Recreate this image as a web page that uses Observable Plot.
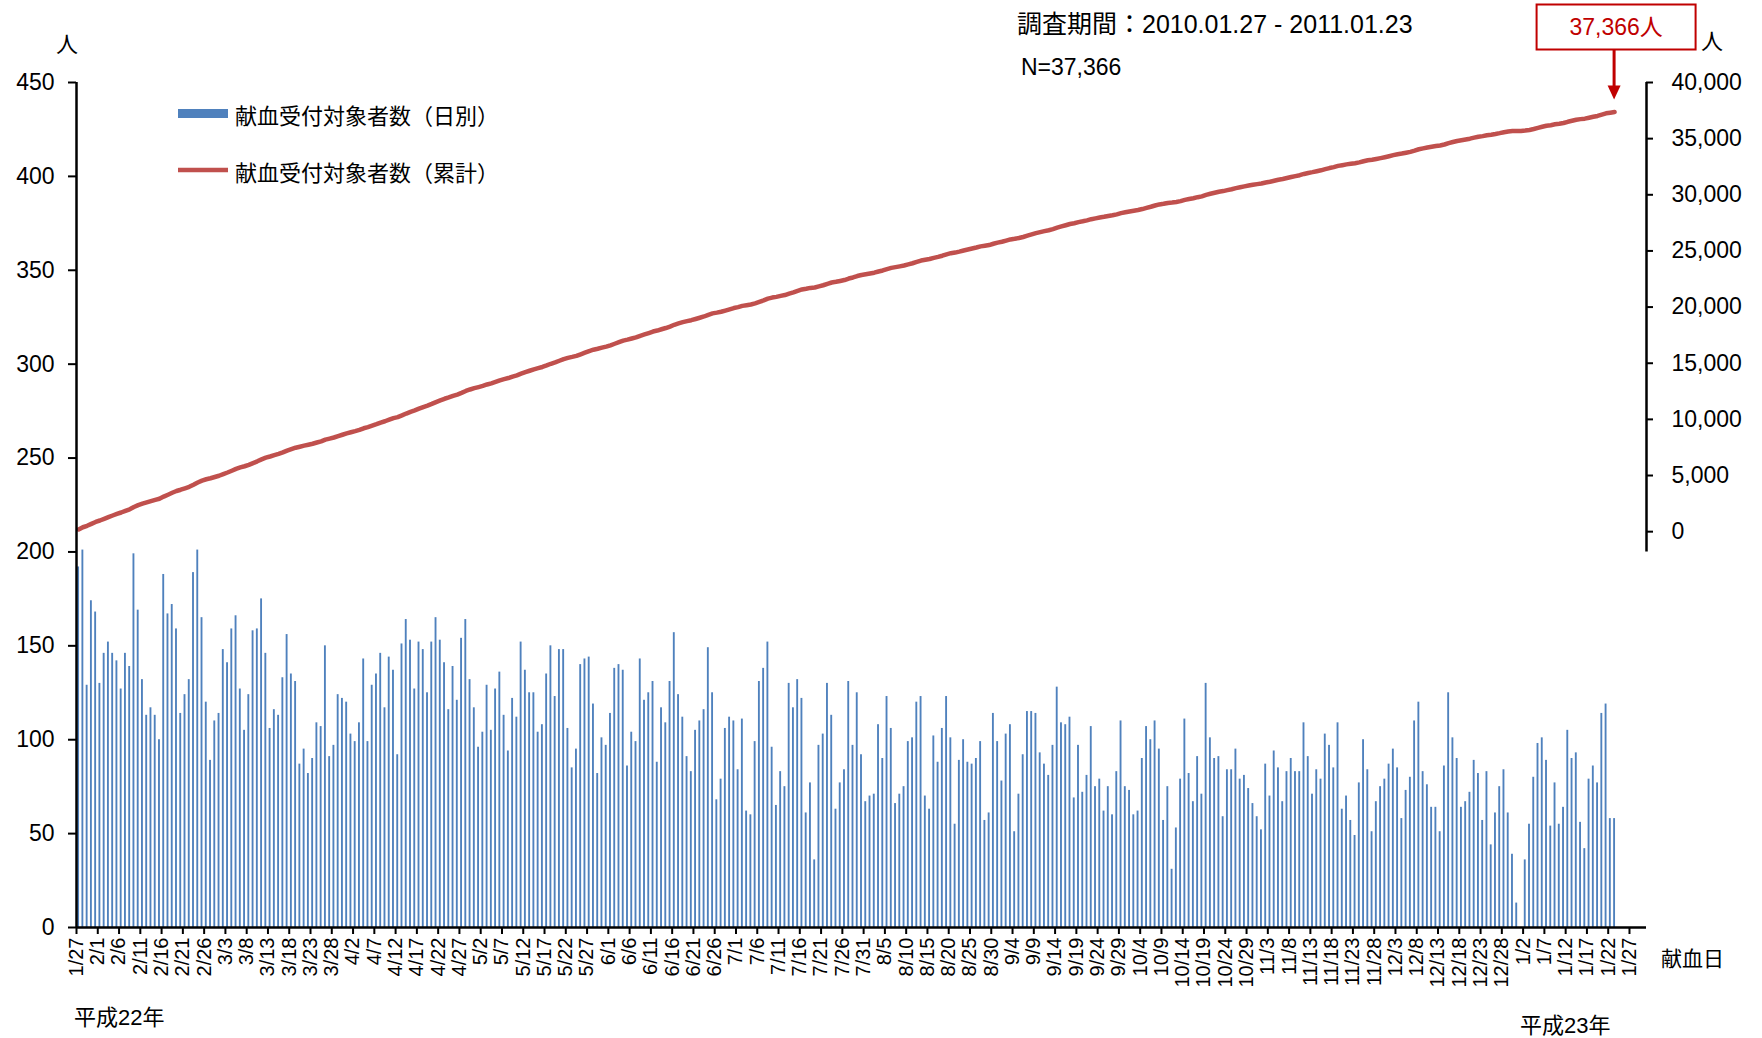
<!DOCTYPE html>
<html><head><meta charset="utf-8">
<script src="https://cdn.jsdelivr.net/npm/d3@7"></script>
<script src="https://cdn.jsdelivr.net/npm/@observablehq/plot@0.6"></script>
<style>
body{margin:0;background:#fff;}
#wrap{position:relative;width:1762px;height:1038px;font-family:"Liberation Sans","Noto Sans CJK JP",sans-serif;color:#000;}
.lbl{position:absolute;white-space:nowrap;line-height:1;transform:translateY(-50%);}
#wrap svg{position:absolute;left:0;top:0;}
</style></head><body><div id="wrap"></div>
<script>
// ---- data ----
const startDate = "2010-01-27";
const daily = [
 // 2010 Jan 27-31
 192,201,129,174,168,
 // Feb
 130,146,152,146,142,127,146,139,199,169,132,113,117,113,100,188,167,172,159,114,124,132,189,201,165,120,89,110,
 // Mar
 114,148,141,159,166,127,105,124,158,159,175,146,106,116,113,133,156,135,131,87,95,82,90,109,107,150,91,97,124,122,120,
 // Apr
 103,99,109,143,99,129,135,146,117,144,137,92,151,164,153,127,152,148,125,152,165,153,141,116,139,121,154,164,132,117,
 // May
 96,104,129,105,127,136,113,94,122,112,152,137,125,125,104,108,135,150,123,148,148,106,85,95,140,143,144,119,82,101,97,
 // Jun
 114,138,140,137,86,104,99,143,121,125,131,88,117,109,131,157,124,112,91,83,105,110,116,149,125,68,79,106,112,110,
 // Jul
 84,111,62,60,99,131,138,152,96,65,83,75,130,117,132,122,61,77,36,97,103,130,113,63,77,84,131,97,125,92,67,
 // Aug
 70,71,108,90,123,106,66,71,75,99,101,120,123,70,63,102,88,106,123,101,55,89,100,88,87,90,99,57,61,114,99,
 // Sep
 78,103,108,51,71,92,115,115,114,93,87,81,97,128,109,108,112,69,97,72,81,107,75,79,62,75,60,83,110,75,
 // Oct
 73,60,62,90,107,100,110,95,57,75,31,53,79,111,82,67,91,71,130,101,90,91,59,84,84,95,79,81,74,66,59,
 // Nov
 52,87,70,94,85,67,83,90,83,83,109,91,71,84,79,103,97,85,109,63,70,57,49,77,100,84,51,67,75,79,
 // Dec
 87,95,85,58,73,80,110,120,83,76,64,64,51,86,125,101,90,64,67,72,89,82,57,83,44,61,75,84,61,39,13,
 // 2011 Jan 1-23
 0,36,55,80,98,101,89,54,77,55,64,105,90,93,56,42,79,86,77,114,119,58,58
];
const totalN = 37366;
const leftTicks = [0,50,100,150,200,250,300,350,400,450];
const rightTicks = [0,5000,10000,15000,20000,25000,30000,35000,40000];
const xTickStep = 5;
const legendLabels = ["献血受付対象者数（日別）","献血受付対象者数（累計）"];
const periodText = "調査期間：2010.01.27 - 2011.01.23";
const nText = "N=37,366";
const calloutText = "37,366人";
const unitText = "人";
const xAxisTitle = "献血日";
const eraLeft = "平成22年";
const eraRight = "平成23年";

// ---- derived ----
const base = new Date(startDate + "T00:00:00Z");
const dayLabel = i => { const d = d3.utcDay.offset(base, i); return `${d.getUTCMonth()+1}/${d.getUTCDate()}`; };
let acc = 0;
const rows = daily.map((v, i) => { acc += v; return {i, v, cum: acc}; });
const nDays = 369;
// right axis (cumulative) mapped onto left axis units
const R0 = 210.8, RK = (450 - R0) / 40000;
const toLeft = v => R0 + v * RK;
const xTicks = d3.range(0, 366, xTickStep);

const FONT = '"Liberation Sans","Noto Sans CJK JP",sans-serif';
const M = {l:76, r:116, t:82, b:111}, W = 1762, H = 1038;

const chart = Plot.plot({
  width: W, height: H,
  marginLeft: M.l, marginRight: M.r, marginTop: M.t, marginBottom: M.b,
  style: {fontFamily: FONT, background: "transparent", overflow: "visible"},
  x: {domain: [0, nDays], axis: null},
  y: {domain: [0, 450], axis: null},
  marks: [
    Plot.rectY(rows, {x1: d => d.i + 0.28, x2: d => d.i + 0.72, y: "v", fill: "#4F81BD"}),
    Plot.line(rows, {x: d => d.i + 0.5, y: d => toLeft(d.cum), stroke: "#C0504D", strokeWidth: 4.5, strokeLinejoin: "round", strokeLinecap: "round"}),
    Plot.axisY(leftTicks, {anchor: "left", tickSize: 8, tickPadding: 14, fontSize: 23, strokeWidth: 2, label: null}),
    Plot.axisX(xTicks, {anchor: "bottom", tickSize: 7, tickPadding: 3, tickRotate: -90, fontSize: 20, tickFormat: d => dayLabel(d), strokeWidth: 2, label: null}),
    Plot.ruleX([0], {y1: 0, y2: 450, strokeWidth: 2.5}),
    Plot.ruleY([0], {x1: 0, x2: nDays, strokeWidth: 2.5}),
    Plot.ruleX([nDays], {y1: 200, y2: 450, strokeWidth: 2.5}),
    Plot.ruleY(rightTicks, {y: toLeft, x1: nDays, x2: nDays, insetRight: -7, strokeWidth: 2}),
    Plot.text(rightTicks, {x: nDays, y: toLeft, text: d => d3.format(",")(d), textAnchor: "start", dx: 25, fontSize: 23})
  ]
});

const wrap = document.getElementById("wrap");
wrap.appendChild(chart);

// scale helpers
const sx = v => M.l + v / nDays * (W - M.l - M.r);
const sy = v => M.t + (1 - v / 450) * (H - M.t - M.b);

function label(text, left, cy, size, extra) {
  const s = document.createElement("div");
  s.className = "lbl";
  s.textContent = text;
  s.style.left = left + "px";
  s.style.top = cy + "px";
  s.style.fontSize = size + "px";
  if (extra) Object.assign(s.style, extra);
  wrap.appendChild(s);
  return s;
}

label(periodText, 1017, 24, 25);
label(nText, 1021, 67, 23);
label(unitText, 56, 45, 22);
label(unitText, 1701, 42, 22);
label(xAxisTitle, 1661, 958, 21);
label(eraLeft, 74, 1018, 22);
label(eraRight, 1520, 1026, 22);

// legend
const lg = d3.select(wrap).append("svg").attr("width", W).attr("height", H).style("pointer-events", "none");
lg.append("rect").attr("x", 178).attr("y", 109).attr("width", 50).attr("height", 9).attr("fill", "#4F81BD");
lg.append("line").attr("x1", 178).attr("x2", 228).attr("y1", 170).attr("y2", 170).attr("stroke", "#C0504D").attr("stroke-width", 4.5);
label(legendLabels[0], 235, 117, 22);
label(legendLabels[1], 235, 174, 22);

// callout
const last = rows[rows.length - 1];
const ax = sx(last.i + 0.5);
const ay = sy(toLeft(last.cum));
const boxW = 159, boxTop = 4.5, boxH = 45;
lg.append("rect").attr("x", ax - boxW/2 + 2).attr("y", boxTop).attr("width", boxW).attr("height", boxH)
  .attr("fill", "#fff").attr("stroke", "#C00000").attr("stroke-width", 2);
lg.append("text").attr("x", ax + 2).attr("y", boxTop + boxH/2).attr("text-anchor", "middle").attr("dominant-baseline", "central")
  .attr("fill", "#C00000").attr("font-size", 23).attr("font-family", FONT).text(calloutText);
const tipY = ay - 12;
lg.append("line").attr("x1", ax).attr("x2", ax).attr("y1", boxTop + boxH).attr("y2", tipY - 12)
  .attr("stroke", "#C00000").attr("stroke-width", 3);
lg.append("path").attr("d", `M${ax-6.5},${tipY-14} L${ax+6.5},${tipY-14} L${ax},${tipY} Z`).attr("fill", "#C00000");
</script>
</body></html>
